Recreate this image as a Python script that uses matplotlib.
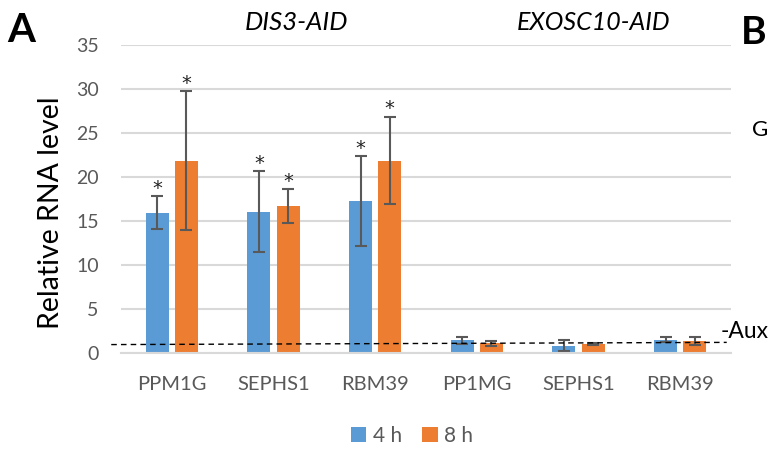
import matplotlib
matplotlib.use("Agg")
import matplotlib.pyplot as plt
import numpy as np
from matplotlib.transforms import blended_transform_factory

plt.rcParams['font.family'] = ['Lato', 'DejaVu Sans']

categories = ["PPM1G", "SEPHS1", "RBM39", "PP1MG", "SEPHS1", "RBM39"]
vals_4h = [15.9, 16.0, 17.2, 1.38, 0.77, 1.45]
err_4h = [1.85, 4.6, 5.1, 0.4, 0.6, 0.3]
vals_8h = [21.8, 16.65, 21.8, 1.05, 1.0, 1.3]
err_8h = [7.9, 1.9, 4.95, 0.26, 0.1, 0.45]
sig_4h = [True, True, True, False, False, False]
sig_8h = [True, True, True, False, False, False]
series_names = ["4 h", "8 h"]
group_titles = ["DIS3-AID", "EXOSC10-AID"]
baseline = [0.9, 1.15]
yticks = [0, 5, 10, 15, 20, 25, 30, 35]

blue = "#5B9BD5"
orange = "#ED7D31"
gray = "#595959"

fig = plt.figure(figsize=(7.71, 4.5), dpi=100)
ax = fig.add_axes([121/771, 1-352.5/450, (731-121)/771, (352.5-44.5)/450])

x = np.arange(len(categories))
w = 0.226
off = 0.143
ekw = dict(ecolor=gray, elinewidth=1.5, capsize=4.5, capthick=1.5)
b1 = ax.bar(x - off, vals_4h, w, yerr=err_4h, color=blue, error_kw=ekw, label=series_names[0], zorder=2)
b2 = ax.bar(x + off, vals_8h, w, yerr=err_8h, color=orange, error_kw=ekw, label=series_names[1], zorder=2)

for xs, vals, errs, sigs in [(x - off, vals_4h, err_4h, sig_4h), (x + off, vals_8h, err_8h, sig_8h)]:
    for xi, v, e, s in zip(xs, vals, errs, sigs):
        if s:
            ax.annotate("*", (xi, v + e), xytext=(0, -1), textcoords="offset points",
                        ha="center", va="bottom", fontsize=14, color="#222222",
                        family="DejaVu Sans")

ax.set_xlim(-0.5, len(categories) - 0.5)
ax.set_ylim(0, 35)
ax.set_yticks(yticks)
ax.set_xticks(x)
ax.set_xticklabels(categories)
ax.yaxis.grid(True, color="#d9d9d9", linewidth=1.5, zorder=0)
ax.set_axisbelow(True)
for sp in ["top", "right", "left"]:
    ax.spines[sp].set_visible(False)
ax.spines["bottom"].set_color("#d9d9d9")
ax.spines["bottom"].set_linewidth(1.5)
ax.tick_params(axis="y", length=0, labelsize=14, labelcolor=gray, pad=16)
ax.tick_params(axis="x", length=0, labelsize=14.5, labelcolor=gray, pad=17)

fig.text(51/771, 1-213/450, "Relative RNA level", rotation=90, ha="center", va="center",
         fontsize=20.5, color="black")

# dashed -Aux baseline
tr = blended_transform_factory(ax.transAxes, ax.transData)
ax.plot([-0.016, 0.993], baseline, transform=tr, color="black", linestyle=(0, (4, 3)),
        linewidth=1.0, clip_on=False, zorder=3)

# group titles
ax.text(1.23, 37.5, group_titles[0], ha="center", va="center", fontsize=18.5, style="italic")
ax.text(4.15, 37.5, group_titles[1], ha="center", va="center", fontsize=18, style="italic")

fig.text(7/771, 1-30/450, "A", fontsize=29, fontweight="bold", ha="left", va="center")
fig.text(741/771, 1-32/450, "B", fontsize=28, fontweight="bold", ha="left", va="center")
fig.text(752/771, 1-130/450, "G", fontsize=16, ha="left", va="center")
fig.text(721/771, 1-331/450, "-Aux", fontsize=16.5, ha="left", va="center")

fig.legend(handles=[b1, b2], labels=series_names, loc="center", bbox_to_anchor=(412/771, 1-436/450),
           ncol=2, frameon=False, fontsize=15, handlelength=0.75, handleheight=0.75,
           handletextpad=0.3, columnspacing=1.0, labelcolor=gray)

fig.savefig("out.png", dpi=100)
